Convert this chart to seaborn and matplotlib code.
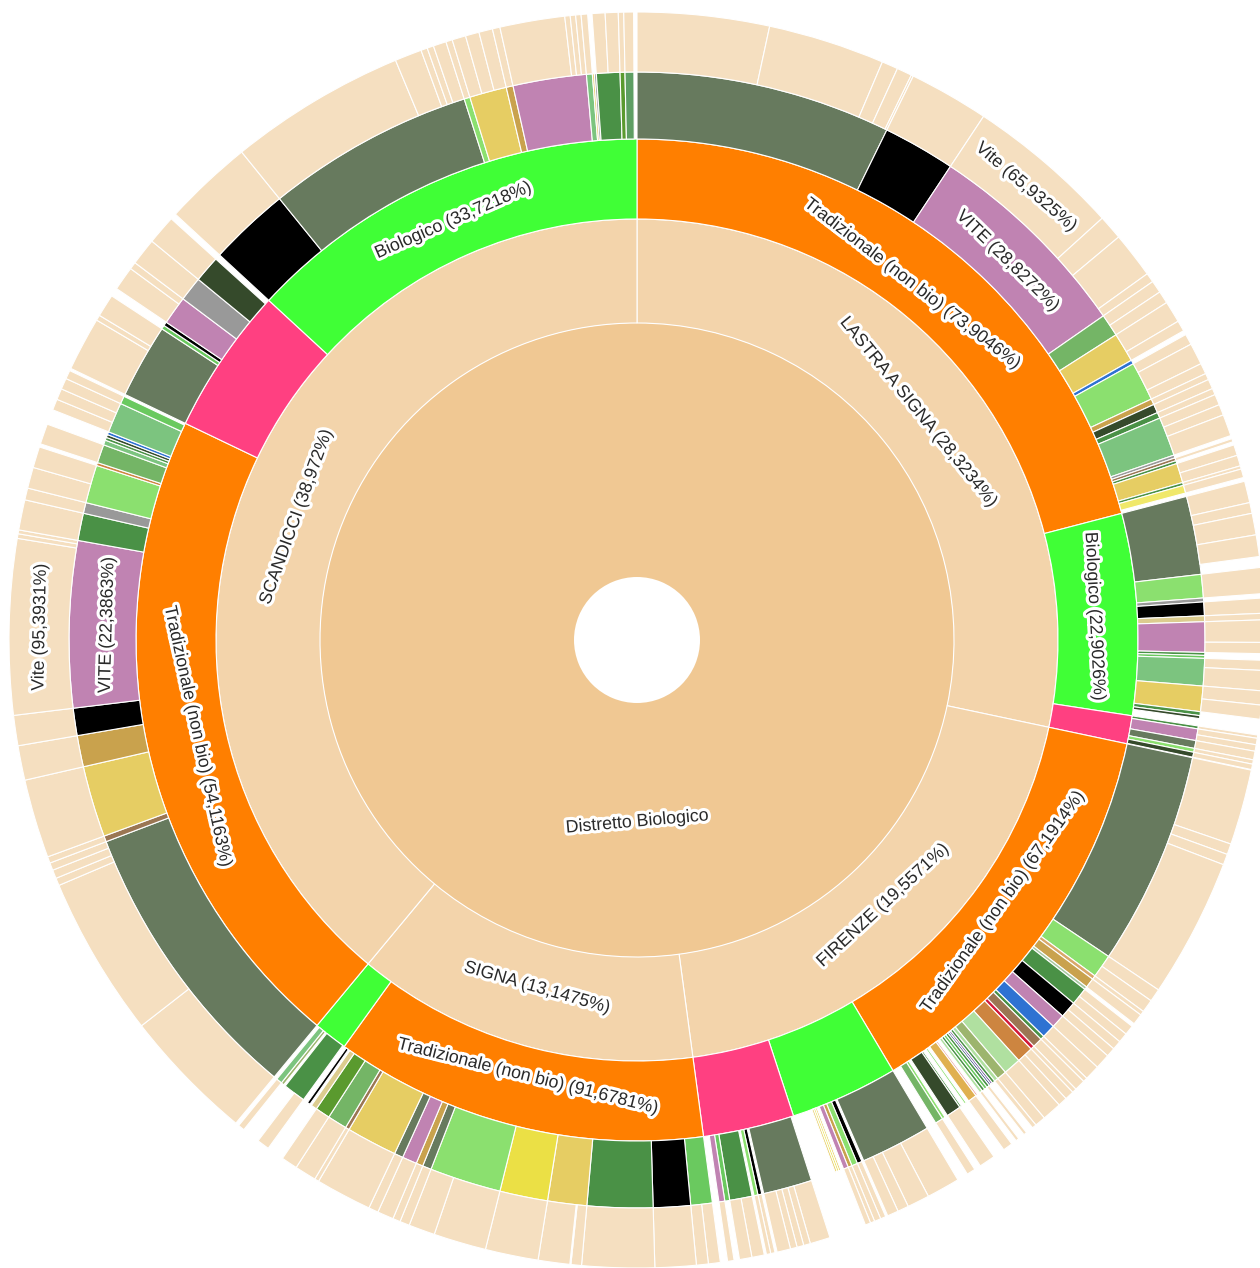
import numpy as np
import matplotlib
matplotlib.use("Agg")
from matplotlib import pyplot as plt
import matplotlib.patheffects as pe
import seaborn as sns

sns.set_style("white")
plt.rcParams['font.family'] = ['Liberation Sans', 'DejaVu Sans']

# --- data ---------------------------------------------------------------
root_label = "Distretto Biologico"
comuni = ["LASTRA A SIGNA", "FIRENZE", "SIGNA", "SCANDICCI"]
comuni_pct = [28.3234, 19.5571, 13.1475, 38.972]

# conduzione per comune, in drawing order
lastra_tipi = ["Tradizionale (non bio)", "Biologico", "In conversione"]
lastra_tipi_pct = [73.9046, 22.9026, 3.1928]
firenze_tipi = ["Tradizionale (non bio)", "Biologico", "In conversione"]
firenze_tipi_pct = [67.1914, 17.80, 15.0086]
signa_tipi = ["Tradizionale (non bio)", "Biologico"]
signa_tipi_pct = [91.6781, 8.3219]
scandicci_tipi = ["Tradizionale (non bio)", "In conversione", "Biologico"]
scandicci_tipi_pct = [54.1163, 12.162, 33.7218]

# colture: (crop, span in degrees, sub-crop weights [neg = empty], label, outer label)
lastra_trad = [
    ("olive", 26.1, [12.2, 10.8, 1.5, 1.4, 0.2]), ("black", 7.4, [1]),
    ("vite", 21.7, [65.9325, 10.5, 19.6, 4.0], "VITE (28,8272%)", "Vite (65,9325%)"),
    ("green2", 2.3, [1, 1]), ("yellow", 3.0, [2, 1]), ("blue", 0.4, []),
    ("lgreen", 4.0, [1, 2, 1]), ("tan", 0.6, [1]), ("dark", 0.9, [1]),
    ("green", 0.6, [1]), ("lgreen2", 4.0, [1, 1, 2]), ("gray", 0.3, []),
    ("brown", 0.3, [1]), ("green", 0.3, []), ("yellow", 2.0, [1, 1]),
    ("green", 0.3, [1]), ("pyellow", 0.8, [1]),
]
lastra_bio = [
    ("olive", 8.0, [2, 1, 2, 2, -1]), ("lgreen", 2.4, [1]), ("gray", 0.4, []),
    ("black", 1.4, [1]), ("ptan", 0.6, [1]), ("vite", 3.1, [2, 1]),
    ("green", 0.3, []), ("lgreen3", 0.3, []), ("lgreen2", 2.8, [1, 2]),
    ("yellow", 2.6, [1, 1]), ("green", 0.4, []), ("dark", 0.3, []),
]
lastra_conv = [
    ("green", 0.3, [1]), ("vite", 1.2, [1, 1]), ("olive", 0.8, [1]),
    ("lgreen", 0.4, [1]), ("dark", 0.5, [1]),
]
firenze_trad = [
    ("olive", 21.9, [7, 1, 1, 12.9]), ("lgreen", 2.4, [1, 1]), ("tan2", 0.4, [1]),
    ("tan", 1.0, [1]), ("sage", 0.3, []), ("green", 1.8, [1, 1]),
    ("black", 1.7, [1, 1]), ("vite", 1.4, [1]), ("blue", 1.4, [1]),
    ("green", 0.4, [1]), ("brown", 1.0, [1]), ("red", 0.4, [1]),
    ("obrown", 1.7, [1, 1]), ("pgreen", 1.8, [1]), ("olight", 1.0, [1]),
    ("pgreen", 0.4, [1]), ("green", 0.3, []), ("purple", 0.2, []),
    ("navy", 0.2, []), ("green", 0.3, [1]), ("lgreen3", 0.3, []),
    ("green", 0.3, []), ("pgreen", 0.3, [1]), (None, 0.3, []),
    ("pink", 0.2, []), ("gold", 0.9, [1]), (None, 0.3, []),
    ("lgreen", 0.2, []), (None, 0.4, []), ("green", 0.2, []),
    ("dark", 1.5, [1]), (None, 0.3, []), ("lgreen", 0.3, []),
    ("green2", 0.8, [1]),
]
firenze_bio = [
    ("olive", 7.2, [3, 2, 1, 1]), (None, 0.2, []), ("black", 0.5, [1]),
    ("lgreen", 0.6, [1]), ("tan", 0.4, [1]), ("vite", 0.5, [1]),
    (None, 0.3, []), ("yellow", 0.2, []), ("byellow", 0.2, []),
    ("yellow", 0.2, []),
]
firenze_conv = [
    (None, 0.3, []), ("olive", 5.0, [3, 1, 1, 1, 2]), (None, 0.2, []),
    ("black", 0.4, [1]), ("lgreen", 0.4, [1]), (None, 0.2, []),
    ("green", 2.3, [1, 1]), ("lgreen3", 0.5, []), ("vite", 0.6, [1]),
]
signa_trad = [
    ("lgreen3", 2.2, [1, 1]), ("black", 3.8, [1]), ("green", 6.7, [1]),
    ("yellow", 4.0, [1, 0.1, 3]), ("byellow", 4.9, [1]), ("lgreen", 7.3, [2, 1]),
    ("olive", 0.9, [1]), ("tan", 0.7, [1]), ("vite", 1.5, [1]),
    ("olive", 0.9, [1]), ("yellow", 5.2, [1]), ("brown", 0.4, [1]),
    ("green2", 2.0, [1]), ("green5", 1.5, [1]), ("ptan", 0.6, []),
    (None, 0.2, []), ("black", 0.3, []),
]
signa_bio = [
    (None, 0.2, []), ("green", 2.3, [1, -1]), (None, 0.2, []),
    ("olight", 0.3, []), ("lgreen2", 0.6, [1]),
]
scandicci_trad = [
    ("olive", 29.5, [12.4, 14.9, 0.7, 0.8, 0.7]), ("brown", 0.6, [1]),
    ("yellow", 7.3, [1]), ("tan", 3.2, [1]), ("black", 2.8, [1]),
    ("vite", 17.0, [95.3931, 2.5, 2.1], "VITE (22,3863%)", "Vite (95,3931%)"),
    ("green", 2.8, [1]), ("gray", 1.1, [1]), ("lgreen", 3.9, [1, 1]),
    ("obrown", 0.3, []), ("green2", 1.9, [1]), ("lgreen2", 0.5, []),
    ("green", 0.3, []), ("dark", 0.3, []), ("blue", 0.3, []),
    ("lgreen2", 3.1, [1, 1, 1]), ("lgreen3", 0.8, [1]),
]
scandicci_conv = [
    ("olive", 7.6, [5, 0.5, 2.1]), ("lgreen3", 0.4, []), ("black", 0.4, []),
    ("vite", 2.9, [1, 0.3]), ("gray", 2.5, [1]), ("dark", 2.7, [1]),
]
scandicci_bio = [
    ("black", 8.3, [1]), ("olive", 21.3, [16.4, 2.5, 0.6, 0.6, 1.2]),
    ("lgreen", 0.6, [1]), ("yellow", 3.8, [1, 1, 1]), ("tan", 0.7, [1]),
    ("vite", 7.5, [6, 0.5, 0.5, 0.5]), ("lgreen2", 0.6, [1]),
    ("yellow", 0.2, []), ("gray", 0.2, []), ("green", 2.4, [1, 1]),
    ("green5", 0.5, [1]), ("green6", 0.9, [1]),
]

tipi = [lastra_tipi, firenze_tipi, signa_tipi, scandicci_tipi]
tipi_pct = [lastra_tipi_pct, firenze_tipi_pct, signa_tipi_pct, scandicci_tipi_pct]
colture = [[lastra_trad, lastra_bio, lastra_conv],
           [firenze_trad, firenze_bio, firenze_conv],
           [signa_trad, signa_bio],
           [scandicci_trad, scandicci_conv, scandicci_bio]]

# --- styles -------------------------------------------------------------
tipo_colors = {"Tradizionale (non bio)": "#ff7f00", "Biologico": "#40ff36",
               "In conversione": "#ff4081"}
crop_colors = {
    "olive": "#677a5e", "black": "#000000", "vite": "#c083b2", "lgreen": "#8be06f",
    "yellow": "#e6cd63", "byellow": "#ebe045", "pyellow": "#f0e86a",
    "green": "#4a9146", "green2": "#74b566", "lgreen2": "#7cc47f",
    "lgreen3": "#6ac95f", "green5": "#5a9a2e", "green6": "#5e9e63",
    "dark": "#354a2b", "tan": "#c9a24d", "tan2": "#d9a86a", "ptan": "#dccc8f",
    "gray": "#999999", "blue": "#2e72d2", "brown": "#9b7653", "red": "#d41a3a",
    "obrown": "#cd8540", "pgreen": "#b0e0a0", "olight": "#9db56e",
    "purple": "#5a3d8a", "navy": "#2c3e7a", "pink": "#e8a0a0", "gold": "#e0b050",
    "sage": "#a7c8a0",
}
root_color = "#f0c893"
comune_color = "#f3d4ab"
outer_color = "#f5dfc0"
R = [63, 317, 421, 501, 568, 628]
FS = 12.8
halo = [pe.withStroke(linewidth=4.5, foreground="white")]

fig = plt.figure(figsize=(12.6, 12.68), dpi=100)
ax = fig.add_axes([7 / 1260, -2 / 1268, 1.0, 1260 / 1268], projection="polar")
ax.set_theta_zero_location("N")
ax.set_theta_direction(-1)
ax.set_ylim(0, 630)
ax.set_axis_off()


def wedge(a0, span, r0, r1, color, lw=0.8):
    ax.bar(np.deg2rad(a0), r1 - r0, width=np.deg2rad(span), bottom=r0,
           align="edge", color=color, edgecolor="white", linewidth=lw)


def fmt(v):
    return ("%.4f" % v).rstrip("0").rstrip(".").replace(".", ",")


def label(a, r, text, size=FS):
    rot = (-a) % 360
    if rot > 180:
        rot -= 360
    if rot > 90:
        rot -= 180
    elif rot < -90:
        rot += 180
    ax.text(np.deg2rad(a), r, text, rotation=rot, rotation_mode="anchor",
            ha="center", va="center", fontsize=size, color="#2a2a2a",
            path_effects=halo)


wedge(0, 360, R[0], R[1], root_color, lw=0)
ax.text(np.pi, 182, root_label, rotation=5, rotation_mode="anchor", ha="center",
        va="center", fontsize=FS, color="#2a2a2a", path_effects=halo)

start = 0.0
for ci, comune in enumerate(comuni):
    span_c = comuni_pct[ci] * 3.6
    wedge(start, span_c, R[1], R[2], comune_color)
    label(start + span_c / 2, 362, f"{comune} ({fmt(comuni_pct[ci])}%)")
    s3 = start
    for ti, tipo in enumerate(tipi[ci]):
        span_t = span_c * tipi_pct[ci][ti] / 100
        wedge(s3, span_t, R[2], R[3], tipo_colors[tipo])
        if span_t > 20:
            rr = 450 if tipo.startswith("Trad") else 458
            label(s3 + span_t / 2, rr, f"{tipo} ({fmt(tipi_pct[ci][ti])}%)")
        s4 = s3
        for entry in colture[ci][ti]:
            key, span4, subs = entry[:3]
            if key is not None:
                wedge(s4, span4, R[3], R[4], crop_colors[key])
                if len(entry) > 3:
                    label(s4 + span4 / 2, 530, entry[3])
                tot = sum(abs(w) for w in subs)
                s5 = s4
                for k, w in enumerate(subs):
                    span5 = span4 * abs(w) / tot
                    if w > 0:
                        wedge(s5, span5, R[4], R[5], outer_color)
                        if k == 0 and len(entry) > 4:
                            label(s5 + span5 / 2, 597, entry[4])
                    s5 += span5
            s4 += span4
        s3 += span_t
    start += span_c

fig.savefig("out.png", dpi=100)
